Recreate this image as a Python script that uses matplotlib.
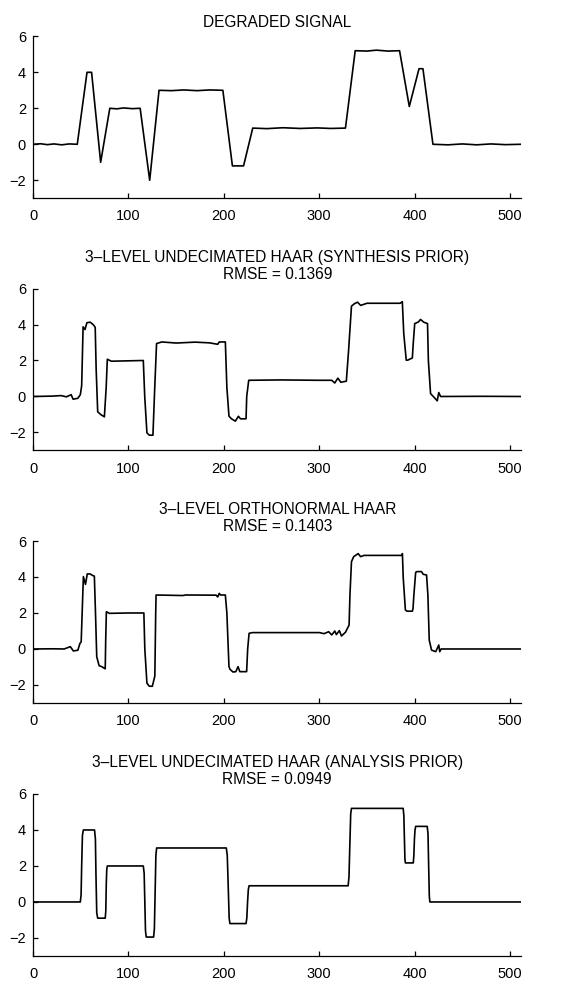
import matplotlib
matplotlib.use("Agg")
import matplotlib.pyplot as plt

plt.rcParams['font.family'] = ['Liberation Sans', 'DejaVu Sans']

titles = [
    "DEGRADED SIGNAL",
    "3\u2013LEVEL UNDECIMATED HAAR (SYNTHESIS PRIOR)\nRMSE = 0.1369",
    "3\u2013LEVEL ORTHONORMAL HAAR\nRMSE = 0.1403",
    "3\u2013LEVEL UNDECIMATED HAAR (ANALYSIS PRIOR)\nRMSE = 0.0949",
]

degraded = [(0, 0), (8, 0.03), (15, -0.02), (22, 0.02), (30, -0.03), (38, 0.02), (46.4, 0),
            (56.6, 4), (61.4, 4), (70.9, -1), (80.5, 2), (88, 1.97), (95, 2.02), (104, 1.98),
            (112.3, 2), (122.3, -2), (132.1, 3), (145, 2.98), (158, 3.02), (172, 2.98),
            (185, 3.02), (199.0, 3), (209.0, -1.2), (220.7, -1.2), (230.3, 0.9), (245, 0.87),
            (262, 0.92), (280, 0.88), (298, 0.91), (312, 0.88), (327.5, 0.9), (337.7, 5.2),
            (350, 5.18), (360, 5.23), (372, 5.18), (384.2, 5.2), (394.4, 2.1),
            (404.6, 4.2), (408.7, 4.2), (419.2, 0), (435, -0.03), (450, 0.02), (465, -0.03),
            (480, 0.02), (495, -0.02), (511, 0)]

synthesis = [(0, 0), (20, 0.02), (29.5, 0.05), (35, -0.02), (40, 0.1), (42, -0.15),
             (47, -0.1), (49.6, 0.1), (51, 0.6), (52.5, 3.87), (54.5, 3.72), (56.5, 4.1),
             (60, 4.13), (63.5, 3.97), (65.2, 3.84), (66.2, 1.5), (67.8, -0.85),
             (70.9, -1.0), (74.8, -1.13), (76.7, 0.5), (77.9, 2.07), (82.1, 1.96),
             (115.6, 2.0), (117.1, 0.0), (119.4, -2.02), (121.9, -2.15), (125.7, -2.15),
             (127.6, 0.5), (129.5, 2.94), (135, 3.03), (150, 2.97), (170, 3.02),
             (185, 2.98), (193.6, 2.9), (195.2, 3.03), (201.6, 3.03), (203.2, 0.5),
             (205.4, -1.09), (208, -1.24), (212.1, -1.37), (215.3, -1.1), (217.5, -1.24),
             (223.3, -1.24), (224, 0.0), (226.1, 0.9), (260, 0.92), (300, 0.9),
             (313.1, 0.9), (316.3, 0.75), (319.5, 1.02), (322.7, 0.79), (328.4, 0.85),
             (330.7, 2.5), (333.8, 5.02), (337, 5.16), (340.2, 5.24), (343.4, 5.06),
             (350, 5.18), (384.8, 5.18), (387.1, 5.27), (388.6, 3.5), (391.2, 2.02),
             (392.8, 2.02), (397.6, 2.14), (398.6, 3.0), (400.1, 4.05), (403.9, 4.14),
             (406.2, 4.28), (409.5, 4.13), (413.5, 4.05), (414.4, 2.0), (416.7, 0.16),
             (419.9, -0.02), (423.7, -0.24), (425.3, 0.22), (427.2, 0.0), (470, 0.01),
             (511, 0.0)]

orthonormal = [(0, 0), (20, 0.01), (32.7, 0), (39.1, 0.13), (42.3, -0.11), (47, -0.07),
               (49.2, 0.31), (50.5, 0.4), (51.2, 1.5), (52.8, 4.02), (55, 3.59),
               (56.9, 4.17), (59.8, 4.17), (63, 4.07), (64.3, 4.05), (65.5, 2.0),
               (66.8, -0.43), (69.3, -0.93), (72, -0.98), (75.7, -1.1), (76.2, 0.5),
               (76.9, 2.07), (80, 1.98), (100, 2.0), (116.2, 2.0), (117.2, 0.0),
               (119.4, -1.9), (121.9, -2.07), (125.1, -2.07), (127.7, -1.5), (128.6, 2.0),
               (129, 3.0), (157, 2.97), (160, 3.0), (192, 2.99), (193.6, 2.89),
               (195.2, 3.09), (196.5, 3.0), (201.6, 3.0), (203.2, 2.0), (205.4, -0.98),
               (206.5, -1.13), (209.6, -1.28), (212.6, -1.26), (214.9, -0.98),
               (216.8, -1.26), (223.9, -1.26), (225, 0.0), (226.5, 0.87), (230, 0.91),
               (300.4, 0.91), (305, 0.85), (309.9, 0.96), (313.1, 0.78), (316.3, 1.0),
               (318, 0.8), (321.1, 1.02), (323.3, 0.72), (327.5, 0.93), (331.3, 1.33),
               (332.2, 3.0), (333.8, 4.85), (336.1, 5.13), (340.8, 5.3), (343.4, 5.13),
               (347, 5.2), (386.4, 5.2), (387.2, 5.3), (388, 4.0), (390.3, 2.17),
               (392, 2.1), (397.6, 2.1), (398.3, 2.24), (399.2, 3.0), (401.1, 4.26),
               (402.4, 4.3), (407.2, 4.3), (409, 4.15), (412.5, 4.11), (413.9, 3.0),
               (415.3, 0.5), (417.7, -0.06), (422.1, -0.15), (425.3, 0.22),
               (426.3, -0.15), (427.8, 0.0), (511, 0.0)]

analysis = [(0, 0), (49.6, 0), (50.4, 0.4), (51, 2), (51.8, 3.7), (52.8, 4), (64.5, 4),
            (65.4, 3.5), (66, 1.5), (66.8, -0.6), (67.8, -0.9), (75.7, -0.9), (76.3, -0.5),
            (76.8, 1), (77.3, 1.8), (77.9, 2), (115.6, 2), (116.5, 1.6), (117.2, 0),
            (117.9, -1.6), (118.7, -1.95), (126.4, -1.95), (127.2, -1.5), (128, 0.5),
            (128.8, 2.6), (129.6, 3), (202.6, 3), (203.6, 2.6), (204.6, 0.9), (205.6, -0.9),
            (206.4, -1.2), (223.3, -1.2), (224.1, -0.9), (224.9, 0), (225.7, 0.7),
            (226.5, 0.9), (330.3, 0.9), (331.2, 1.4), (332, 3), (333, 4.9), (333.8, 5.2),
            (388, 5.2), (388.7, 4.8), (389.3, 3.5), (389.8, 2.4), (390.3, 2.17),
            (398.6, 2.17), (399.2, 2.6), (399.8, 3.5), (400.4, 4), (401.1, 4.2),
            (413.2, 4.2), (414, 3.8), (414.7, 2), (415.4, 0.3), (416, 0), (511, 0)]

series = [degraded, synthesis, orthonormal, analysis]
xticks = [0, 100, 200, 300, 400, 500]
yticks = [-2, 0, 2, 4, 6]

fig = plt.figure(figsize=(5.73, 9.84), dpi=100)
bottoms = [0.7985, 0.5422, 0.2856, 0.0285]
for title, data, b in zip(titles, series, bottoms):
    ax = fig.add_axes([0.0576, b, 0.8525, 0.1646])
    xs, ys = zip(*data)
    ax.plot(xs, ys, color='black', lw=1.2)
    ax.set_xlim(0, 512)
    ax.set_ylim(-3, 6)
    ax.set_xticks(xticks)
    ax.set_yticks(yticks)
    for s in ('top', 'right'):
        ax.spines[s].set_visible(False)
    for s in ('left', 'bottom'):
        ax.spines[s].set_linewidth(0.9)
    ax.tick_params(axis='both', direction='in', length=3.5, width=0.9, labelsize=10.5)
    ax.tick_params(axis='x', pad=8)
    ax.tick_params(axis='y', pad=5)
    ax.set_title(title, fontsize=11.2, pad=7, linespacing=1.15)

fig.savefig("out.png", dpi=100)
